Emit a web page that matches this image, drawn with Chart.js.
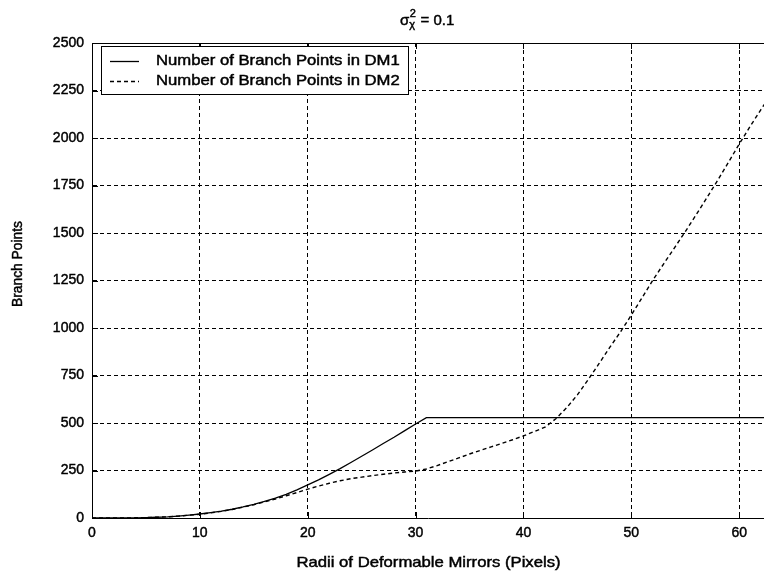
<!DOCTYPE html>
<html>
<head>
<meta charset="utf-8">
<script src="https://cdn.jsdelivr.net/npm/chart.js@4/dist/chart.umd.min.js"></script>
<style>
  html, body { margin: 0; padding: 0; background: #fff; }
  #wrap { width: 764px; height: 579px; }
</style>
</head>
<body>
<div id="wrap"><canvas id="c" width="764" height="579"></canvas></div>
<script>
// Mirror radius in pixels
const radii = [0,1,2,3,4,5,6,7,8,9,10,11,12,13,14,15,16,17,18,19,20,21,22,23,24,25,26,27,28,29,30,31,32,33,34,35,36,37,38,39,40,41,42,43,44,45,46,47,48,49,50,51,52,53,54,55,56,57,58,59,60,61,62,63];

// Branch point counts for each deformable mirror
const dm1Points = [0,0,0,0,1,2,4,6,10,15,21,28,36,46,58,72,88,105,124,148,174,201,230,260,292,325,358,392,425,460,495,528,528,528,528,528,528,528,528,528,528,528,528,528,528,528,528,528,528,528,528,528,528,528,528,528,528,528,528,528,528,528,528,528];
const dm2Points = [0,0,0,0,1,2,4,6,10,15,20,27,35,45,57,70,85,100,117,134,152,168,183,196,207,215,223,230,237,242,247,258,276,296,316,337,356,374,393,412,432,455,478,522,580,648,728,812,898,980,1068,1160,1252,1338,1422,1507,1595,1685,1777,1872,1968,2060,2148,2235];

const seriesLabels = ['Number of Branch Points in DM1', 'Number of Branch Points in DM2'];
const xTickStep = 10;
const yTickStep = 250;
const xMax = 62.3;
const yMax = 2500;

const FONT = '"Liberation Sans", Arial, Helvetica, sans-serif';
const DASH = [4, 3];
const WIDE = 1.15;   // horizontal widening of the label face
const HEAVY = 0.45;  // outline that darkens the label strokes

const toXY = (ys) => radii.map((r, i) => ({ x: r, y: ys[i] }));

function inkText(ctx, text, x, y) {
  ctx.lineWidth = HEAVY;
  ctx.strokeStyle = '#000';
  ctx.strokeText(text, x, y);
  ctx.fillText(text, x, y);
}

// Draw text widened horizontally; align 'left' or 'center' at x
function wideText(ctx, text, x, y, align) {
  const w = ctx.measureText(text).width * WIDE;
  const left = align === 'center' ? x - w / 2 : x;
  ctx.save();
  ctx.textAlign = 'left';
  ctx.translate(left, y);
  ctx.scale(WIDE, 1);
  inkText(ctx, text, 0, 0);
  ctx.restore();
  return w;
}

// Frame, inward tick marks, titles and the legend box
const decorations = {
  id: 'decorations',
  afterDraw(chart) {
    const { ctx, chartArea: a, scales } = chart;
    const xs = scales.x, ys = scales.y;
    ctx.save();
    ctx.strokeStyle = '#000';
    ctx.lineWidth = 1;
    ctx.setLineDash([]);

    // solid top edge of the axes box
    ctx.beginPath();
    ctx.moveTo(a.left, a.top + 0.5);
    ctx.lineTo(a.right, a.top + 0.5);
    ctx.stroke();

    // short inward ticks
    const tl = 6;
    ctx.beginPath();
    xs.ticks.forEach(t => {
      const px = Math.round(xs.getPixelForValue(t.value)) + 0.5;
      ctx.moveTo(px, a.bottom); ctx.lineTo(px, a.bottom - tl);
      ctx.moveTo(px, a.top); ctx.lineTo(px, a.top + tl);
    });
    ys.ticks.forEach(t => {
      const py = Math.round(ys.getPixelForValue(t.value)) + 0.5;
      ctx.moveTo(a.left, py); ctx.lineTo(a.left + tl, py);
    });
    ctx.stroke();

    // title: sigma^2 with chi subscript
    ctx.fillStyle = '#000';
    ctx.textBaseline = 'alphabetic';
    ctx.textAlign = 'left';
    const base = 25;
    ctx.font = '15px ' + FONT;
    const wSig = ctx.measureText('\u03C3').width;
    ctx.font = '11px ' + FONT;
    const wSup = Math.max(ctx.measureText('2').width, ctx.measureText('\u03C7').width);
    const x0 = 400;
    ctx.font = '15px ' + FONT;
    inkText(ctx, '\u03C3', x0, base);
    ctx.font = '11px ' + FONT;
    inkText(ctx, '2', x0 + wSig + 0.5, base - 8);
    inkText(ctx, '\u03C7', x0 + wSig, base + 3);
    ctx.font = '15px ' + FONT;
    inkText(ctx, ' = 0.1', x0 + wSig + wSup + 1, base);

    // axis titles
    ctx.textBaseline = 'middle';
    ctx.font = '14.5px ' + FONT;
    wideText(ctx, 'Radii of Deformable Mirrors (Pixels)', 428.5, 563, 'center');
    ctx.textAlign = 'center';
    ctx.font = '13.8px ' + FONT;
    ctx.save();
    ctx.translate(18, 264);
    ctx.rotate(-Math.PI / 2);
    inkText(ctx, 'Branch Points', 0, 0);
    ctx.restore();

    // legend
    ctx.font = '14.5px ' + FONT;
    const textW = Math.max(...chart.data.datasets.map(d => ctx.measureText(d.label).width)) * WIDE;
    const lx = 101, ly = 46, lh = 48;
    const lw = Math.ceil(156 + textW + 8 - lx);
    ctx.fillStyle = '#fff';
    ctx.fillRect(lx, ly, lw, lh);
    ctx.strokeStyle = '#000';
    ctx.lineWidth = 1;
    ctx.strokeRect(lx + 0.5, ly + 0.5, lw, lh);
    const rows = [61, 81];
    chart.data.datasets.forEach((ds, i) => {
      ctx.beginPath();
      ctx.setLineDash(ds.borderDash || []);
      ctx.lineWidth = 1.3;
      ctx.strokeStyle = '#000';
      ctx.moveTo(110, rows[i] + 0.5);
      ctx.lineTo(139, rows[i] + 0.5);
      ctx.stroke();
      ctx.setLineDash([]);
      ctx.fillStyle = '#000';
      ctx.textBaseline = 'middle';
      wideText(ctx, ds.label, 156, rows[i], 'left');
    });
    ctx.restore();
  }
};

const tickFont = { family: FONT, size: 14 };

new Chart(document.getElementById('c'), {
  type: 'line',
  data: {
    datasets: [
      {
        label: seriesLabels[0],
        data: toXY(dm1Points),
        borderColor: '#000',
        borderWidth: 1.3,
        pointRadius: 0,
        tension: 0,
        fill: false
      },
      {
        label: seriesLabels[1],
        data: toXY(dm2Points),
        borderColor: '#000',
        borderWidth: 1.4,
        borderDash: DASH,
        pointRadius: 0,
        tension: 0,
        fill: false
      }
    ]
  },
  options: {
    responsive: false,
    animation: false,
    events: [],
    layout: { padding: { top: 43, right: 0, bottom: 0, left: 0 } },
    plugins: {
      legend: { display: false },
      title: { display: false },
      tooltip: { enabled: false }
    },
    scales: {
      x: {
        type: 'linear',
        min: 0,
        max: xMax,
        afterFit(s) { s.height = 61; },
        ticks: {
          stepSize: xTickStep,
          includeBounds: false,
          color: '#000',
          textStrokeColor: '#000',
          textStrokeWidth: HEAVY,
          padding: 7,
          maxRotation: 0,
          callback: (v) => String(v),
          font: tickFont
        },
        grid: { color: '#000', lineWidth: 1, drawTicks: false },
        border: { display: true, color: '#000', width: 1, dash: DASH }
      },
      y: {
        type: 'linear',
        min: 0,
        max: yMax,
        afterFit(s) { s.width = 92; },
        ticks: {
          stepSize: yTickStep,
          color: '#000',
          textStrokeColor: '#000',
          textStrokeWidth: HEAVY,
          padding: 8,
          callback: (v) => String(v),
          font: tickFont
        },
        grid: { color: '#000', lineWidth: 1, drawTicks: false },
        border: { display: true, color: '#000', width: 1, dash: DASH }
      }
    }
  },
  plugins: [decorations]
});
</script>
</body>
</html>
